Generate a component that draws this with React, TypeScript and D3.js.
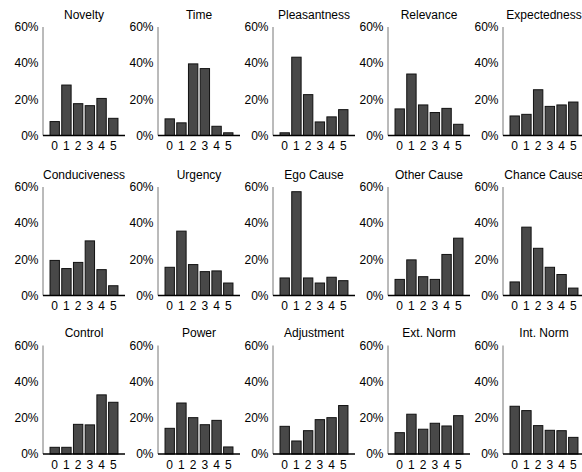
import * as d3 from "d3";

const titles = [
  "Novelty", "Time", "Pleasantness", "Relevance", "Expectedness",
  "Conduciveness", "Urgency", "Ego Cause", "Other Cause", "Chance Cause",
  "Control", "Power", "Adjustment", "Ext. Norm", "Int. Norm",
];

const levels = [0, 1, 2, 3, 4, 5];
const yTicks = [0, 20, 40, 60];

// percent per level, one array per panel
const novelty = [7.7, 27.9, 17.6, 16.5, 20.5, 9.5];
const time = [9.2, 7.0, 39.6, 37.0, 5.1, 1.5];
const pleasantness = [1.5, 43.3, 22.6, 7.5, 10.3, 14.3];
const relevance = [14.7, 34.0, 16.9, 12.7, 15.0, 6.2];
const expectedness = [10.8, 11.7, 25.3, 16.1, 16.9, 18.5];
const conduciveness = [19.4, 14.9, 18.3, 30.2, 14.3, 5.4];
const urgency = [15.6, 35.6, 17.1, 13.2, 13.6, 6.9];
const egoCause = [9.7, 57.4, 9.7, 6.9, 10.1, 8.2];
const otherCause = [8.9, 19.7, 10.4, 8.9, 22.7, 31.7];
const chanceCause = [7.5, 37.8, 26.1, 15.6, 11.6, 4.1];
const control = [3.7, 3.7, 16.4, 16.1, 32.7, 28.6];
const power = [14.2, 28.2, 20.1, 16.2, 18.6, 3.9];
const adjustment = [15.3, 7.2, 12.9, 19.0, 20.1, 26.8];
const extNorm = [11.8, 22.0, 13.7, 17.0, 15.5, 21.2];
const intNorm = [26.4, 24.0, 15.7, 13.1, 12.9, 9.2];

const series = [
  novelty, time, pleasantness, relevance, expectedness,
  conduciveness, urgency, egoCause, otherCause, chanceCause,
  control, power, adjustment, extNorm, intNorm,
];

const W = 582;
const H = 472;
const colLeft = [43, 158, 273, 388, 503];
const rowTop = [27, 187, 345.5];
const pw = 82;
const ph = 108.5;
const font = "Liberation Sans, Arial, Helvetica, sans-serif";
const fs = 12;

function Panel({ title, values, left, top }: { title: string; values: number[]; left: number; top: number }) {
  const x = d3.scaleLinear().domain([-1, 6]).range([0, pw]);
  const y = d3.scaleLinear().domain([0, 60]).range([ph, 0]);
  const bw = (x(1) - x(0)) * 0.8;
  return (
    <g transform={`translate(${left},${top})`}>
      <text x={pw / 2} y={-8.5} textAnchor="middle" fontSize={fs} fontFamily={font} fill="#000">
        {title}
      </text>
      {values.map((v, i) => (
        <rect
          key={i}
          x={x(levels[i]) - bw / 2}
          y={y(v)}
          width={bw}
          height={y(0) - y(v)}
          fill="#484848"
          stroke="#111"
          strokeWidth={1}
        />
      ))}
      <line x1={0} x2={0} y1={0} y2={ph} stroke="#777" strokeWidth={1} />
      <line x1={0} x2={pw} y1={ph} y2={ph} stroke="#000" strokeWidth={1.5} />
      {yTicks.map((t) => (
        <text key={t} x={-4.5} y={y(t)} dy="0.36em" textAnchor="end" fontSize={fs} fontFamily={font} fill="#000">
          {t}%
        </text>
      ))}
      {levels.map((l) => (
        <text key={l} x={x(l)} y={ph + 14.5} textAnchor="middle" fontSize={fs} fontFamily={font} fill="#000">
          {l}
        </text>
      ))}
    </g>
  );
}

export default function App() {
  return (
    <svg width={W} height={H} style={{ position: "absolute", left: 0, top: 0, background: "#fff" }}>
      {series.map((vals, i) => (
        <Panel
          key={titles[i]}
          title={titles[i]}
          values={vals}
          left={colLeft[i % 5]}
          top={rowTop[Math.floor(i / 5)]}
        />
      ))}
    </svg>
  );
}
